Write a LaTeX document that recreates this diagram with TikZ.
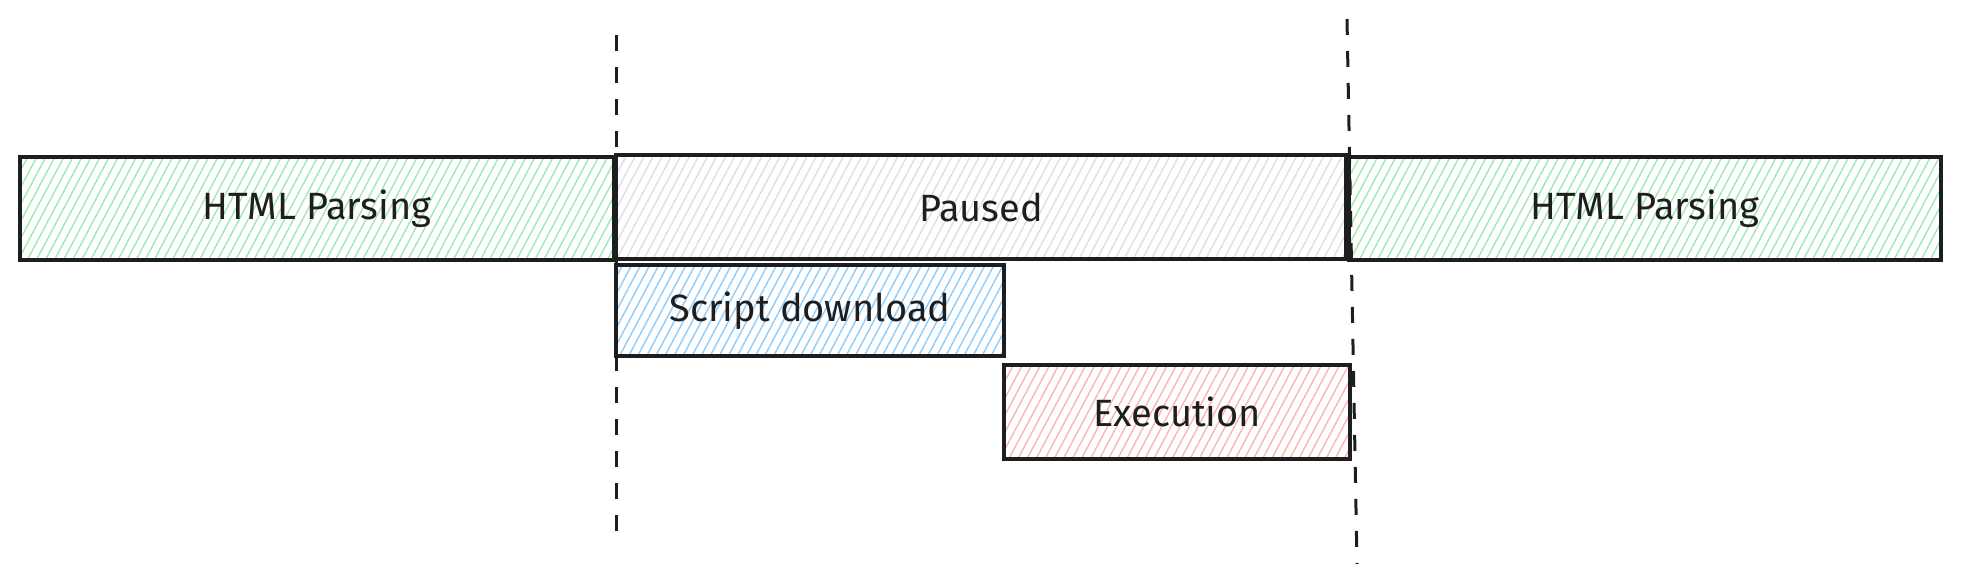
\documentclass[tikz,border=0pt]{standalone}
\usepackage{fontspec}
\setmainfont{Fira Sans}
\usetikzlibrary{patterns.meta}
\definecolor{hgreen}{HTML}{9FE8AE}
\definecolor{hgrey}{HTML}{DCDFE3}
\definecolor{hblue}{HTML}{8ECDFB}
\definecolor{hred}{HTML}{FDB3B3}
\definecolor{ink}{HTML}{1E1E1E}
\tikzset{
  bar/.style={draw=ink, line width=3.2pt, rectangle, inner sep=0pt,
    font=\fontsize{38}{46}\selectfont, text=ink},
  hatch/.style={pattern={Lines[angle=62,distance=8pt,line width=1.4pt]}, pattern color=#1},
  divider/.style={draw=ink, line width=3pt, dash pattern=on 16pt off 16pt}
}
\begin{document}
\begin{tikzpicture}[x=1pt,y=-1pt]
\useasboundingbox (0,0) rectangle (1961,584);
\node[bar, hatch=hgreen, minimum width=594pt, minimum height=103pt] (p1) at (317,208.5) {HTML Parsing};
\node[bar, hatch=hgrey, minimum width=730pt, minimum height=104pt] (pa) at (981,207) {Paused};
\node[bar, hatch=hgreen, minimum width=592pt, minimum height=103pt] (p2) at (1645,208.5) {HTML Parsing};
\node[bar, hatch=hblue, minimum width=388pt, minimum height=91pt] (sd) at (810,310.5) {Script download};
\node[bar, hatch=hred, minimum width=346pt, minimum height=94pt] (ex) at (1177,412) {Execution};
\coordinate (d1a) at (616,35);
\coordinate (d1b) at (616,531);
\coordinate (d2a) at (1347,19);
\coordinate (d2b) at (1357,564);
\draw[divider] (d1a) -- (d1b);
\draw[divider] (d2a) -- (d2b);
\end{tikzpicture}
\end{document}
